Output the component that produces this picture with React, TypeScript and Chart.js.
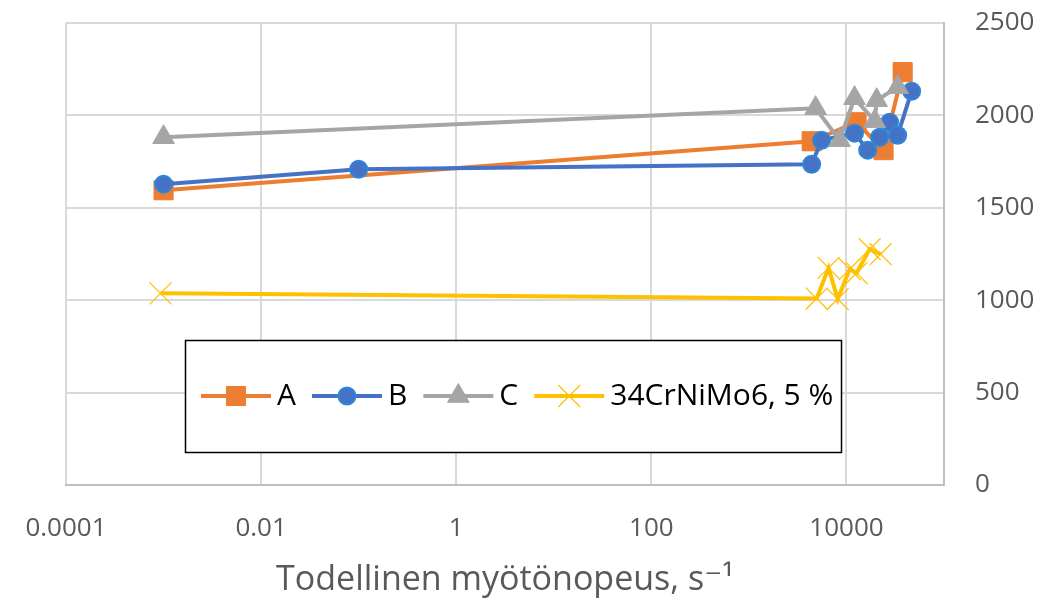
import React, { useEffect, useRef } from 'react';
import { Chart, registerables } from 'chart.js';

Chart.register(...registerables);

// ---- data ----
const X_TICKS = [0.0001, 0.01, 1, 100, 10000];
const X_TICK_LABELS = ['0.0001', '0.01', '1', '100', '10000'];
const X_TITLE = 'Todellinen myötönopeus, s\u207B\u00B9';

const SERIES_NAMES = ['A', 'B', 'C', '34CrNiMo6, 5 %'];

const A_X = [0.001, 4400, 12700, 24000, 37700];
const A_Y = [1595, 1860, 1963, 1812, 2234];

const B_X = [0.001, 0.1, 4400, 5570, 12100, 16500, 21900, 27700, 33500, 46600];
const B_Y = [1628, 1709, 1736, 1866, 1904, 1812, 1882, 1963, 1893, 2131];

const C_X = [0.001, 4830, 8510, 12100, 19500, 20400, 33500];
const C_Y = [1882, 2039, 1866, 2093, 1969, 2082, 2153];

const D_X = [0.00093, 4950, 6560, 8130, 10800, 12700, 17300, 22400];
const D_Y = [1037, 1009, 1175, 1006, 1168, 1147, 1276, 1249];

const FONT = '"Open Sans", "DejaVu Sans", sans-serif';

function pts(xs: number[], ys: number[]) {
  return xs.map((x, i) => ({ x, y: ys[i] }));
}

function drawMarker(ctx: CanvasRenderingContext2D, ds: any, x: number, y: number) {
  const r = ds.pointRadius;
  ctx.save();
  ctx.fillStyle = ds.pointBackgroundColor;
  ctx.strokeStyle = ds.pointBorderColor;
  ctx.lineWidth = ds.pointBorderWidth;
  ctx.beginPath();
  if (ds.pointStyle === 'rect') {
    const s = Math.SQRT1_2 * r;
    ctx.rect(x - s, y - s, 2 * s, 2 * s);
    ctx.fill();
    ctx.stroke();
  } else if (ds.pointStyle === 'circle') {
    ctx.arc(x, y, r, 0, Math.PI * 2);
    ctx.fill();
    ctx.stroke();
  } else if (ds.pointStyle === 'triangle') {
    let rad = 0;
    const T = (2 * Math.PI) / 3;
    ctx.moveTo(x + Math.sin(rad) * r, y - Math.cos(rad) * r);
    rad += T;
    ctx.lineTo(x + Math.sin(rad) * r, y - Math.cos(rad) * r);
    rad += T;
    ctx.lineTo(x + Math.sin(rad) * r, y - Math.cos(rad) * r);
    ctx.closePath();
    ctx.fill();
    ctx.stroke();
  } else if (ds.pointStyle === 'crossRot') {
    const o = Math.SQRT1_2 * r;
    ctx.moveTo(x - o, y - o);
    ctx.lineTo(x + o, y + o);
    ctx.moveTo(x - o, y + o);
    ctx.lineTo(x + o, y - o);
    ctx.stroke();
  }
  ctx.restore();
}

const boxLegend = {
  id: 'boxLegend',
  afterDraw(chart: any) {
    const ctx: CanvasRenderingContext2D = chart.ctx;
    const bx = 185, by = 340, bw = 656, bh = 112;
    ctx.save();
    ctx.fillStyle = '#ffffff';
    ctx.fillRect(bx, by, bw, bh);
    ctx.strokeStyle = '#000000';
    ctx.lineWidth = 1.5;
    ctx.strokeRect(bx + 0.5, by + 0.5, bw, bh);
    ctx.font = `30px ${FONT}`;
    ctx.textBaseline = 'middle';
    ctx.textAlign = 'left';
    const cy = by + bh / 2;
    let x = bx + 16;
    chart.data.datasets.forEach((ds: any) => {
      ctx.strokeStyle = ds.borderColor;
      ctx.lineWidth = ds.borderWidth;
      ctx.lineCap = 'butt';
      ctx.beginPath();
      ctx.moveTo(x, cy);
      ctx.lineTo(x + 70, cy);
      ctx.stroke();
      drawMarker(ctx, ds, x + 35, cy);
      ctx.fillStyle = '#000000';
      const tx = x + 76;
      ctx.fillText(ds.label, tx, cy);
      x = tx + ctx.measureText(ds.label).width + 16;
    });
    ctx.restore();
  },
};

export default function App() {
  const ref = useRef<HTMLCanvasElement | null>(null);

  useEffect(() => {
    document.body.style.margin = '0';
    const canvas = ref.current;
    if (!canvas) return;
    const common = { borderWidth: 4, showLine: true, fill: false, tension: 0 };
    const chart = new Chart(canvas, {
      type: 'scatter',
      data: {
        datasets: [
          {
            ...common,
            label: SERIES_NAMES[0],
            data: pts(A_X, A_Y),
            borderColor: '#ED7D31',
            pointStyle: 'rect',
            pointRadius: 13.5,
            pointBackgroundColor: '#ED7D31',
            pointBorderColor: '#ED7D31',
            pointBorderWidth: 1,
            order: 4,
          },
          {
            ...common,
            label: SERIES_NAMES[1],
            data: pts(B_X, B_Y),
            borderColor: '#4472C4',
            pointStyle: 'circle',
            pointRadius: 8.5,
            pointBackgroundColor: '#4472C4',
            pointBorderColor: '#2F86D9',
            pointBorderWidth: 2,
            order: 3,
          },
          {
            ...common,
            label: SERIES_NAMES[2],
            data: pts(C_X, C_Y),
            borderColor: '#A5A5A5',
            pointStyle: 'triangle',
            pointRadius: 12.5,
            pointBackgroundColor: '#A5A5A5',
            pointBorderColor: '#A5A5A5',
            pointBorderWidth: 1,
            order: 2,
          },
          {
            ...common,
            label: SERIES_NAMES[3],
            data: pts(D_X, D_Y),
            borderColor: '#FFC000',
            pointStyle: 'crossRot',
            pointRadius: 15.5,
            pointBackgroundColor: '#FFC000',
            pointBorderColor: '#FFC000',
            pointBorderWidth: 1.25,
            order: 1,
          },
        ] as any,
      },
      options: {
        responsive: false,
        animation: false,
        devicePixelRatio: 1,
        layout: { padding: { left: 66, top: 23, right: 0, bottom: 0 } },
        plugins: {
          legend: { display: false },
          tooltip: { enabled: false },
          title: { display: false },
        },
        scales: {
          x: {
            type: 'logarithmic',
            position: 'bottom',
            min: 0.0001,
            max: 100000,
            afterBuildTicks: (scale: any) => {
              scale.ticks = X_TICKS.map((v) => ({ value: v }));
            },
            afterFit: (scale: any) => {
              scale.height = 116;
              scale.paddingLeft = 0;
              scale.paddingRight = 0;
            },
            ticks: {
              autoSkip: false,
              maxRotation: 0,
              padding: 28,
              color: '#595959',
              font: { family: FONT, size: 26 },
              callback: (_v: any, i: number) => X_TICK_LABELS[i],
            },
            grid: { color: '#D9D9D9', lineWidth: 2, drawTicks: false },
            border: { display: true, color: '#BFBFBF', width: 2 },
            title: {
              display: true,
              text: X_TITLE,
              color: '#595959',
              font: { family: FONT, size: 34 },
              padding: { top: 0, bottom: 0 },
            },
          },
          y: {
            type: 'linear',
            position: 'right',
            min: 0,
            max: 2500,
            afterFit: (scale: any) => {
              scale.width = 113;
              scale.paddingTop = 0;
              scale.paddingBottom = 0;
            },
            ticks: {
              stepSize: 500,
              padding: 31,
              color: '#595959',
              font: { family: FONT, size: 26 },
              callback: (v: any) => String(v),
            },
            grid: { color: '#D9D9D9', lineWidth: 2, drawTicks: false },
            border: { display: true, color: '#BFBFBF', width: 2 },
          },
        },
      } as any,
      plugins: [boxLegend],
    });
    return () => chart.destroy();
  }, []);

  return (
    <div style={{ width: 1057, height: 601, background: '#ffffff' }}>
      <canvas ref={ref} width={1057} height={601} style={{ display: 'block' }} />
    </div>
  );
}
